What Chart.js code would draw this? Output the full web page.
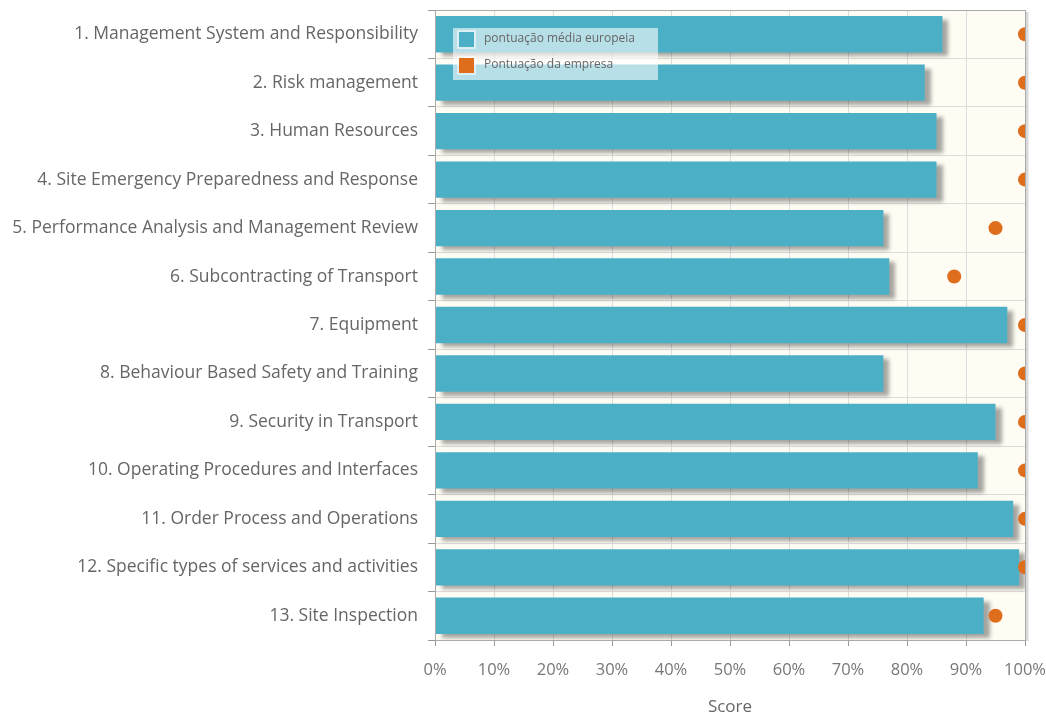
<!DOCTYPE html>
<html>
<head>
<meta charset="utf-8">
<script src="https://cdn.jsdelivr.net/npm/chart.js@4.4.0/dist/chart.umd.min.js"></script>
<style>
  html, body { margin: 0; padding: 0; background: #fff; }
  #wrap { width: 1046px; height: 715px; }
</style>
</head>
<body>
<div id="wrap"><canvas id="grafico"></canvas></div>
<script>
// Dados
const categorias = [
  '1. Management System and Responsibility',
  '2. Risk management',
  '3. Human Resources',
  '4. Site Emergency Preparedness and Response',
  '5. Performance Analysis and Management Review',
  '6. Subcontracting of Transport',
  '7. Equipment',
  '8. Behaviour Based Safety and Training',
  '9. Security in Transport',
  '10. Operating Procedures and Interfaces',
  '11. Order Process and Operations',
  '12. Specific types of services and activities',
  '13. Site Inspection'
];
const mediaEuropeia = [86, 83, 85, 85, 76, 77, 97, 76, 95, 92, 98, 99, 93];
const pontuacaoEmpresa = [100, 100, 100, 100, 95, 88, 100, 100, 100, 100, 100, 100, 95];
const ticksX = [0, 10, 20, 30, 40, 50, 60, 70, 80, 90, 100];

const corBarra = '#4bb0c6';
const corPonto = '#de6d1c';
const fonte = '"Open Sans", "Noto Sans", sans-serif';

// Fundo da area do grafico
const fundoPlot = {
  id: 'fundoPlot',
  beforeDraw(chart) {
    const { ctx, chartArea: a } = chart;
    ctx.save();
    ctx.fillStyle = '#fffcf4';
    ctx.fillRect(a.left, a.top, a.right - a.left, a.bottom - a.top);
    ctx.restore();
  },
  afterDraw(chart) {
    const { ctx, chartArea: a } = chart;
    ctx.save();
    // moldura com sombra a direita
    ctx.strokeStyle = 'rgba(0,0,0,0.15)';
    ctx.lineWidth = 3;
    ctx.beginPath();
    ctx.moveTo(a.right + 2, a.top + 2);
    ctx.lineTo(a.right + 2, a.bottom + 1);
    ctx.stroke();
    ctx.strokeStyle = '#aaa';
    ctx.lineWidth = 1;
    ctx.strokeRect(a.left + 0.5, a.top + 0.5, a.right - a.left, a.bottom - a.top);
    ctx.restore();
  }
};

// Sombra das barras
const sombraBarras = {
  id: 'sombraBarras',
  beforeDatasetDraw(chart, args) {
    if (args.index !== 0) return;
    const ctx = chart.ctx;
    ctx.save();
    ctx.shadowColor = 'rgba(0,0,0,0.35)';
    ctx.shadowOffsetX = 6;
    ctx.shadowOffsetY = 4;
    ctx.shadowBlur = 4;
  },
  afterDatasetDraw(chart, args) {
    if (args.index !== 0) return;
    chart.ctx.restore();
  }
};

// Legenda dentro do grafico
const legendaInterna = {
  id: 'legendaInterna',
  afterDraw(chart) {
    const { ctx, chartArea: a } = chart;
    const x = a.left + 18, y = a.top + 18;
    ctx.save();
    ctx.fillStyle = 'rgba(255,255,255,0.6)';
    ctx.fillRect(x, y, 205, 52);
    ctx.font = '12px ' + fonte;
    ctx.textBaseline = 'middle';
    chart.data.datasets.forEach((ds, i) => {
      const cy = y + 11 + i * 26;
      ctx.fillStyle = 'rgba(255,255,255,0.5)';
      ctx.fillRect(x + 4, cy - 9, 19, 19);
      ctx.fillStyle = i === 0 ? corBarra : corPonto;
      ctx.fillRect(x + 6, cy - 7, 15, 15);
      ctx.fillStyle = '#666';
      ctx.fillText(ds.label, x + 31, cy);
    });
    ctx.restore();
  }
};

new Chart(document.getElementById('grafico'), {
  type: 'bar',
  data: {
    labels: categorias,
    datasets: [
      {
        label: 'pontuação média europeia',
        data: mediaEuropeia,
        backgroundColor: corBarra,
        borderWidth: 0,
        barPercentage: 0.75,
        categoryPercentage: 1,
        order: 2
      },
      {
        type: 'line',
        label: 'Pontuação da empresa',
        data: pontuacaoEmpresa,
        showLine: false,
        pointRadius: 7,
        pointHoverRadius: 7,
        pointBackgroundColor: corPonto,
        pointBorderWidth: 0,
        clip: 0,
        order: 1
      }
    ]
  },
  options: {
    indexAxis: 'y',
    responsive: true,
    maintainAspectRatio: false,
    animation: false,
    layout: { padding: { top: 10, right: 21, bottom: 0, left: 0 } },
    plugins: {
      legend: { display: false },
      tooltip: { enabled: false }
    },
    scales: {
      x: {
        min: 0,
        max: 100,
        afterBuildTicks: s => { s.ticks = ticksX.map(v => ({ value: v })); },
        afterFit: s => { s.height = 75; s.paddingLeft = 0; s.paddingRight = 0; },
        grid: { color: '#ddd', tickLength: 6, tickColor: '#999' },
        border: { color: '#999' },
        ticks: {
          color: '#777',
          padding: 14,
          font: { family: fonte, size: 16.5 },
          callback: v => v + '%'
        },
        title: {
          display: true,
          text: 'Score',
          color: '#666',
          padding: { top: 7, bottom: -2 },
          font: { family: fonte, size: 17 }
        }
      },
      y: {
        afterFit: s => { s.width = 435; s.paddingTop = 0; s.paddingBottom = 0; },
        grid: { color: '#ddd', tickLength: 7, tickColor: '#999', offset: true },
        border: { color: '#999' },
        ticks: {
          color: '#666',
          padding: 10,
          font: { family: fonte, size: 17.5 }
        }
      }
    }
  },
  plugins: [fundoPlot, sombraBarras, legendaInterna]
});
</script>
</body>
</html>
